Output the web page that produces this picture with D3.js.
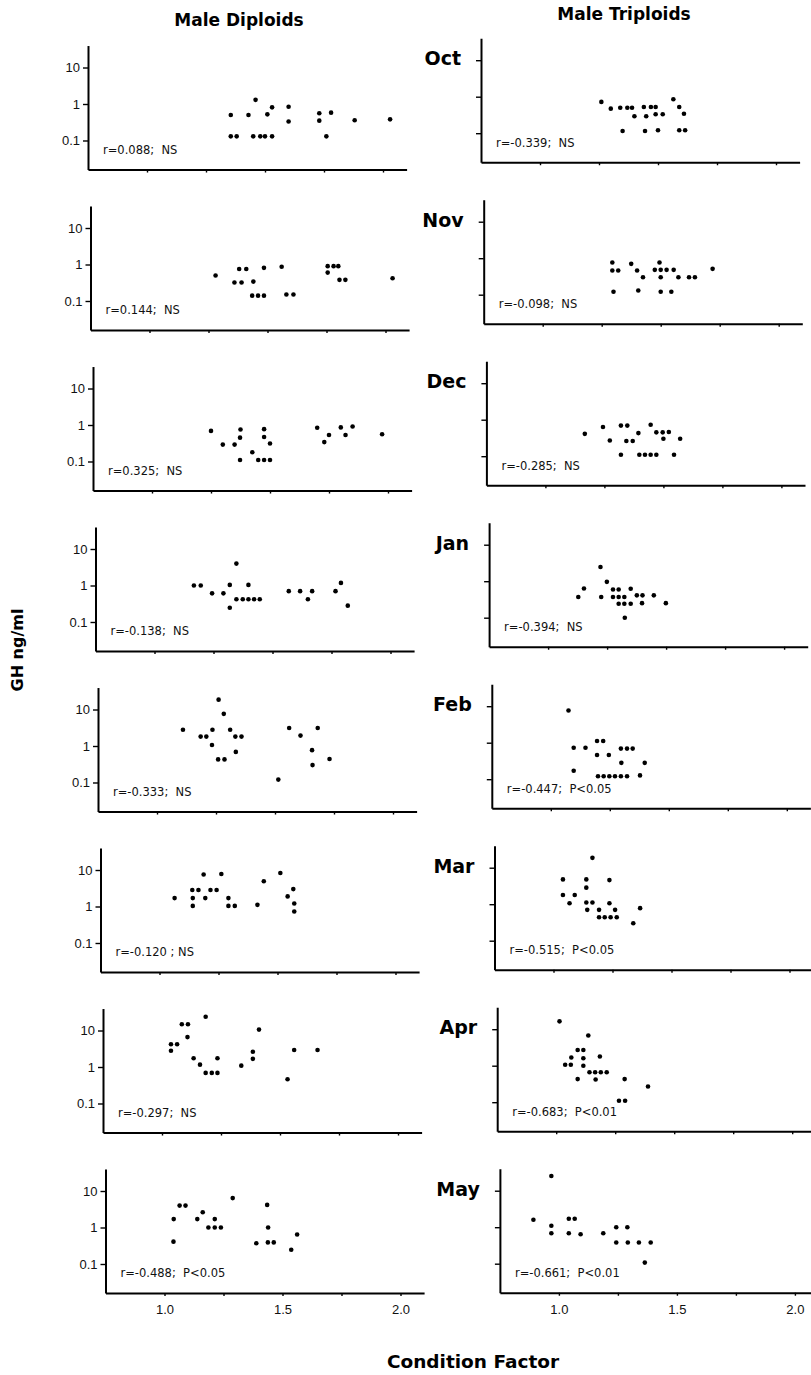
<!DOCTYPE html>
<html>
<head>
<meta charset="utf-8">
<script src="https://cdn.jsdelivr.net/npm/d3@7"></script>
<style>
  body { margin: 0; background: #fff; }
  svg { display: block; font-family: "DejaVu Sans", sans-serif; }
  .axis path, .axis line { stroke: #000; }
  .axis path { stroke-width: 2; }
  .axis line { stroke-width: 1.4; }
  .axis text { font-size: 13px; fill: #111; }
</style>
</head>
<body>
<div class="graph--gh"></div>
<script>
// months (rows), read top to bottom
var months = ["Oct", "Nov", "Dec", "Jan", "Feb", "Mar", "Apr", "May"];

// [condition factor, GH ng/ml]
var diploidOct = [[1.355,0.5],[1.355,0.13],[1.38,0.13],[1.43,0.5],[1.46,1.3],[1.45,0.13],[1.48,0.13],[1.50,0.13],[1.53,0.13],[1.51,0.52],[1.53,0.81],[1.60,0.84],[1.60,0.33],[1.73,0.56],[1.73,0.35],[1.76,0.13],[1.78,0.58],[1.88,0.36],[2.03,0.38]];
var diploidNov = [[1.28,0.5],[1.36,0.32],[1.39,0.32],[1.38,0.75],[1.41,0.75],[1.44,0.34],[1.435,0.14],[1.46,0.14],[1.485,0.14],[1.485,0.81],[1.56,0.87],[1.58,0.15],[1.61,0.15],[1.755,0.9],[1.78,0.9],[1.80,0.9],[1.755,0.6],[1.805,0.38],[1.83,0.38],[2.03,0.42]];
var diploidDec = [[1.25,0.69],[1.30,0.29],[1.35,0.29],[1.375,0.75],[1.373,0.45],[1.373,0.11],[1.425,0.18],[1.45,0.11],[1.475,0.11],[1.50,0.11],[1.475,0.77],[1.475,0.47],[1.50,0.31],[1.70,0.84],[1.73,0.34],[1.75,0.53],[1.80,0.86],[1.82,0.53],[1.85,0.91],[1.975,0.56]];
var diploidJan = [[1.167,1.0],[1.196,1.0],[1.244,0.61],[1.292,0.61],[1.319,1.04],[1.319,0.245],[1.347,3.98],[1.347,0.42],[1.374,0.42],[1.398,0.42],[1.422,0.42],[1.446,0.42],[1.398,1.04],[1.569,0.70],[1.617,0.70],[1.65,0.42],[1.668,0.70],[1.767,0.70],[1.79,1.18],[1.819,0.28]];
var diploidFeb = [[1.11,2.78],[1.185,1.81],[1.209,1.81],[1.235,2.78],[1.233,1.07],[1.261,18.6],[1.283,7.6],[1.31,2.78],[1.332,1.81],[1.358,1.81],[1.334,0.69],[1.259,0.43],[1.286,0.43],[1.514,0.12],[1.56,3.1],[1.608,1.93],[1.657,0.77],[1.681,3.1],[1.659,0.30],[1.731,0.44]];
var diploidMar = [[1.064,1.70],[1.139,2.83],[1.165,2.83],[1.141,1.70],[1.141,1.04],[1.187,7.5],[1.194,1.70],[1.216,2.83],[1.242,2.83],[1.262,7.8],[1.292,1.70],[1.292,1.04],[1.319,1.04],[1.415,1.11],[1.442,4.9],[1.512,8.3],[1.543,1.89],[1.567,3.0],[1.571,1.21],[1.571,0.73]];
var diploidApr = [[1.185,23.9],[1.084,14.9],[1.11,14.9],[1.108,6.6],[1.038,4.2],[1.064,4.2],[1.038,2.79],[1.134,1.74],[1.161,1.16],[1.185,0.69],[1.211,0.69],[1.235,0.69],[1.235,1.74],[1.336,1.09],[1.385,1.67],[1.385,2.62],[1.411,10.6],[1.532,0.46],[1.56,2.91],[1.659,2.91]];
var diploidMay = [[1.039,1.70],[1.038,0.41],[1.064,3.98],[1.089,3.98],[1.139,1.70],[1.162,2.61],[1.213,1.70],[1.186,1.0],[1.213,1.0],[1.239,1.0],[1.289,6.4],[1.389,0.37],[1.435,4.16],[1.439,1.0],[1.438,0.39],[1.463,0.39],[1.537,0.245],[1.562,0.64]];

var triploidOct = [[1.26,0.72],[1.30,0.47],[1.34,0.5],[1.37,0.5],[1.39,0.5],[1.40,0.29],[1.35,0.115],[1.44,0.52],[1.47,0.52],[1.49,0.52],[1.45,0.29],[1.49,0.33],[1.52,0.33],[1.445,0.115],[1.50,0.12],[1.565,0.85],[1.59,0.52],[1.61,0.34],[1.59,0.12],[1.615,0.12]];
var triploidNov = [[1.295,0.76],[1.295,0.46],[1.32,0.46],[1.30,0.12],[1.375,0.70],[1.40,0.46],[1.425,0.30],[1.405,0.13],[1.475,0.48],[1.50,0.48],[1.525,0.48],[1.555,0.48],[1.495,0.76],[1.50,0.30],[1.50,0.12],[1.545,0.12],[1.575,0.30],[1.62,0.30],[1.645,0.30],[1.72,0.51]];
var triploidDec = [[1.167,0.41],[1.244,0.63],[1.273,0.27],[1.32,0.69],[1.347,0.69],[1.343,0.26],[1.37,0.26],[1.32,0.11],[1.394,0.43],[1.398,0.11],[1.422,0.11],[1.446,0.11],[1.47,0.11],[1.446,0.73],[1.47,0.45],[1.497,0.45],[1.50,0.30],[1.523,0.46],[1.545,0.11],[1.571,0.30]];
var triploidJan = [[1.128,0.37],[1.152,0.63],[1.222,2.45],[1.225,0.37],[1.249,0.96],[1.275,0.59],[1.299,0.59],[1.275,0.37],[1.299,0.37],[1.323,0.37],[1.299,0.24],[1.323,0.24],[1.35,0.24],[1.35,0.62],[1.325,0.10],[1.376,0.41],[1.40,0.41],[1.398,0.25],[1.448,0.41],[1.499,0.25]];
var triploidFeb = [[1.075,7.6],[1.097,0.73],[1.097,0.17],[1.147,0.73],[1.196,1.11],[1.222,1.11],[1.196,0.46],[1.246,0.46],[1.20,0.12],[1.224,0.12],[1.248,0.12],[1.272,0.12],[1.297,0.12],[1.323,0.12],[1.297,0.69],[1.323,0.69],[1.347,0.69],[1.299,0.28],[1.378,0.127],[1.398,0.28]];
var triploidMar = [[1.165,18.6],[1.04,4.78],[1.139,4.78],[1.237,4.57],[1.139,2.84],[1.04,1.79],[1.09,1.79],[1.068,1.06],[1.139,1.11],[1.165,1.11],[1.237,1.06],[1.143,0.70],[1.193,0.70],[1.261,0.70],[1.193,0.44],[1.217,0.44],[1.242,0.44],[1.268,0.44],[1.367,0.78],[1.338,0.30]];
var triploidApr = [[1.014,16.4],[1.136,6.7],[1.091,2.7],[1.115,2.7],[1.064,1.68],[1.115,1.6],[1.185,1.78],[1.038,1.06],[1.062,1.06],[1.115,1.0],[1.141,0.66],[1.165,0.66],[1.189,0.66],[1.214,0.66],[1.091,0.43],[1.167,0.42],[1.29,0.43],[1.266,0.11],[1.292,0.11],[1.389,0.27]];
var triploidMay = [[0.968,25.4],[0.892,1.6],[0.968,1.1],[0.968,0.68],[1.042,1.70],[1.067,1.70],[1.042,0.68],[1.092,0.64],[1.188,0.68],[1.243,1.0],[1.29,1.0],[1.243,0.38],[1.292,0.38],[1.339,0.38],[1.389,0.38],[1.364,0.107]];

var diploidStats = ["r=0.088;  NS", "r=0.144;  NS", "r=0.325;  NS", "r=-0.138;  NS",
                    "r=-0.333;  NS", "r=-0.120 ; NS", "r=-0.297;  NS", "r=-0.488;  P<0.05"];
var triploidStats = ["r=-0.339;  NS", "r=-0.098;  NS", "r=-0.285;  NS", "r=-0.394;  NS",
                     "r=-0.447;  P<0.05", "r=-0.515;  P<0.05", "r=-0.683;  P<0.01", "r=-0.661;  P<0.01"];

var yTicks = [0.1, 1, 10];
var xTicks = [1.0, 1.25, 1.5, 1.75, 2.0];
var xLabelled = [1.0, 1.5, 2.0];

var diploids = [diploidOct, diploidNov, diploidDec, diploidJan, diploidFeb, diploidMar, diploidApr, diploidMay];
var triploids = [triploidOct, triploidNov, triploidDec, triploidJan, triploidFeb, triploidMar, triploidApr, triploidMay];

var width = 811, height = 1375;
var panelW = 318.6, panelH = 124;

var svg = d3.select(".graph--gh").append("svg")
    .attr("width", width)
    .attr("height", height);
svg.append("rect").attr("width", width).attr("height", height).attr("fill", "#fff");

var xScale = d3.scaleLinear().domain([0.75, 2.1]).range([0, panelW]);
var yScale = d3.scaleLog().domain([0.016, 40]).range([panelH, 0]);
var oneOffset = yScale(1);

// the scan drifts a little: each row sits slightly further right
function panelPos(col, row) {
  if (col === 0) return { x: 88 + row * 2.5, y: 104 + row * 160.5 - oneOffset };
  return { x: 481 + row * 2.7, y: 96.7 + row * 161.5 - oneOffset };
}

function drawPanel(col, row, data, stat) {
  var p = panelPos(col, row);
  var g = svg.append("g")
      .attr("class", "panel")
      .attr("transform", "translate(" + p.x + "," + p.y + ")");

  var yAxis = d3.axisLeft(yScale)
      .tickValues(yTicks)
      .tickSize(5)
      .tickSizeOuter(0)
      .tickPadding(3)
      .tickFormat(col === 0 ? function(d) { return d < 1 ? "0.1" : String(d); } : function() { return ""; });
  g.append("g").attr("class", "y axis").call(yAxis);

  var last = row === months.length - 1;
  var xAxis = d3.axisBottom(xScale)
      .tickValues(xTicks)
      .tickSize(3)
      .tickSizeOuter(0)
      .tickPadding(9)
      .tickFormat(function(d) { return (last && xLabelled.indexOf(d) >= 0) ? d3.format(".1f")(d) : ""; });
  g.append("g").attr("class", "x axis")
      .attr("transform", "translate(0," + panelH + ")")
      .call(xAxis);

  g.selectAll("circle.pt")
    .data(data)
    .enter().append("circle")
      .attr("class", "pt")
      .attr("cx", function(d) { return xScale(d[0]); })
      .attr("cy", function(d) { return yScale(d[1]); })
      .attr("r", 2.3)
      .attr("fill", "#000");

  g.append("text")
      .attr("x", 15)
      .attr("y", oneOffset + 50)
      .attr("font-size", 11.5)
      .attr("fill", "#111")
      .style("white-space", "pre")
      .text(stat);

  if (col === 1) {
    g.append("text")
        .attr("x", -20)
        .attr("y", yScale(10) + 5)
        .attr("text-anchor", "end")
        .attr("font-size", 19)
        .attr("font-weight", "bold")
        .text(months[row]);
  }
}

months.forEach(function(m, i) {
  drawPanel(0, i, diploids[i], diploidStats[i]);
  drawPanel(1, i, triploids[i], triploidStats[i]);
});

// column titles
svg.append("text")
    .attr("x", 239).attr("y", 26)
    .attr("text-anchor", "middle")
    .attr("font-size", 17).attr("font-weight", "bold")
    .text("Male Diploids");
svg.append("text")
    .attr("x", 624).attr("y", 20)
    .attr("text-anchor", "middle")
    .attr("font-size", 17).attr("font-weight", "bold")
    .text("Male Triploids");

// axis titles
svg.append("text")
    .attr("transform", "translate(23,650) rotate(-90)")
    .attr("text-anchor", "middle")
    .attr("font-size", 16).attr("font-weight", "bold")
    .text("GH ng/ml");
svg.append("text")
    .attr("x", 473).attr("y", 1368)
    .attr("text-anchor", "middle")
    .attr("font-size", 18.5).attr("font-weight", "bold")
    .text("Condition Factor");
</script>
</body>
</html>
